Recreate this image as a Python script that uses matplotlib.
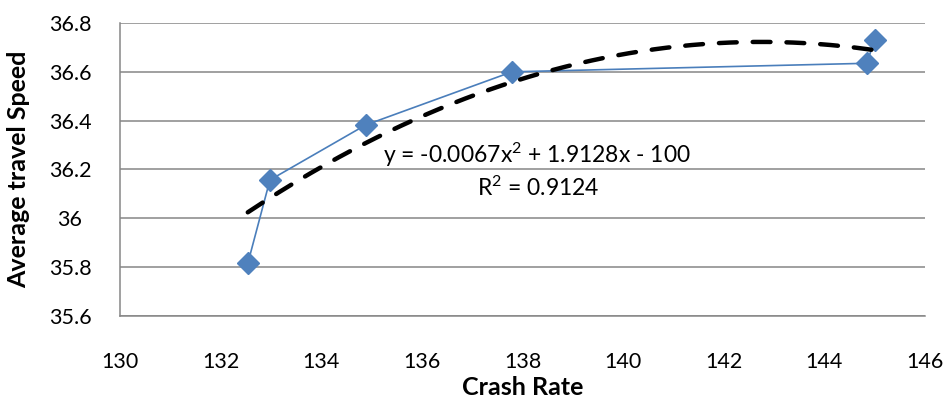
import numpy as np
import matplotlib
matplotlib.use("Agg")
import matplotlib.pyplot as plt

plt.rcParams['font.family'] = ['Lato', 'DejaVu Sans']
plt.rcParams['mathtext.fontset'] = 'custom'
plt.rcParams['mathtext.rm'] = 'Lato'
plt.rcParams['mathtext.it'] = 'Lato'
plt.rcParams['mathtext.default'] = 'regular'

crash_rate = [132.54, 132.98, 134.88, 137.79, 144.84, 145.0]
avg_speed = [35.815, 36.157, 36.382, 36.600, 36.635, 36.730]
trend_coef = [-0.0067, 1.9128, -99.80]
x_ticks = [130, 132, 134, 136, 138, 140, 142, 144, 146]
y_ticks = [35.6, 35.8, 36.0, 36.2, 36.4, 36.6, 36.8]
y_tick_labels = ["35.6", "35.8", "36", "36.2", "36.4", "36.6", "36.8"]
eq_line1 = "y = -0.0067x$^2$ + 1.9128x - 100"
eq_line2 = "R$^2$ = 0.9124"

fig = plt.figure(figsize=(9.5, 4.07), dpi=100)
ax = fig.add_axes([0.1263, 0.2236, 0.8474, 0.7199])

grid_c = '#868686'
for yv in y_ticks:
    ax.axhline(yv, color=grid_c, lw=1.1, zorder=0)

ax.plot(crash_rate, avg_speed, color='#4A7EBB', lw=1.2, marker='D',
        markersize=11, markerfacecolor='#4F81BD', markeredgecolor='#4F81BD', zorder=3)

xs = np.linspace(min(crash_rate), max(crash_rate), 200)
ax.plot(xs, np.polyval(trend_coef, xs), color='black', lw=3.2, ls=(0, (4, 3.6)),
        zorder=4, dash_capstyle='round')

ax.text(537, 407 - 155, eq_line1, transform=None, ha='center', va='center',
        fontsize=16.5)
ax.text(538, 407 - 188, eq_line2, transform=None, ha='center', va='center',
        fontsize=16.5)

ax.set_xlim(130, 146)
ax.set_ylim(35.6, 36.8)
ax.set_xticks(x_ticks)
ax.set_xticklabels([str(t) for t in x_ticks])
ax.set_yticks(y_ticks)
ax.set_yticklabels(y_tick_labels, ha='center')
ax.tick_params(axis='both', labelsize=15.5, length=0, colors='black')
ax.tick_params(axis='x', pad=26)
ax.tick_params(axis='y', pad=36)
for s in ['top', 'right']:
    ax.spines[s].set_visible(False)
for s in ['left', 'bottom']:
    ax.spines[s].set_color(grid_c)
    ax.spines[s].set_linewidth(1.1)

ax.set_xlabel("Crash Rate", fontsize=18, fontweight='bold', labelpad=3)
ax.set_ylabel("Average travel Speed", fontsize=18, fontweight='bold', labelpad=13)

fig.savefig("out.png", dpi=100)
